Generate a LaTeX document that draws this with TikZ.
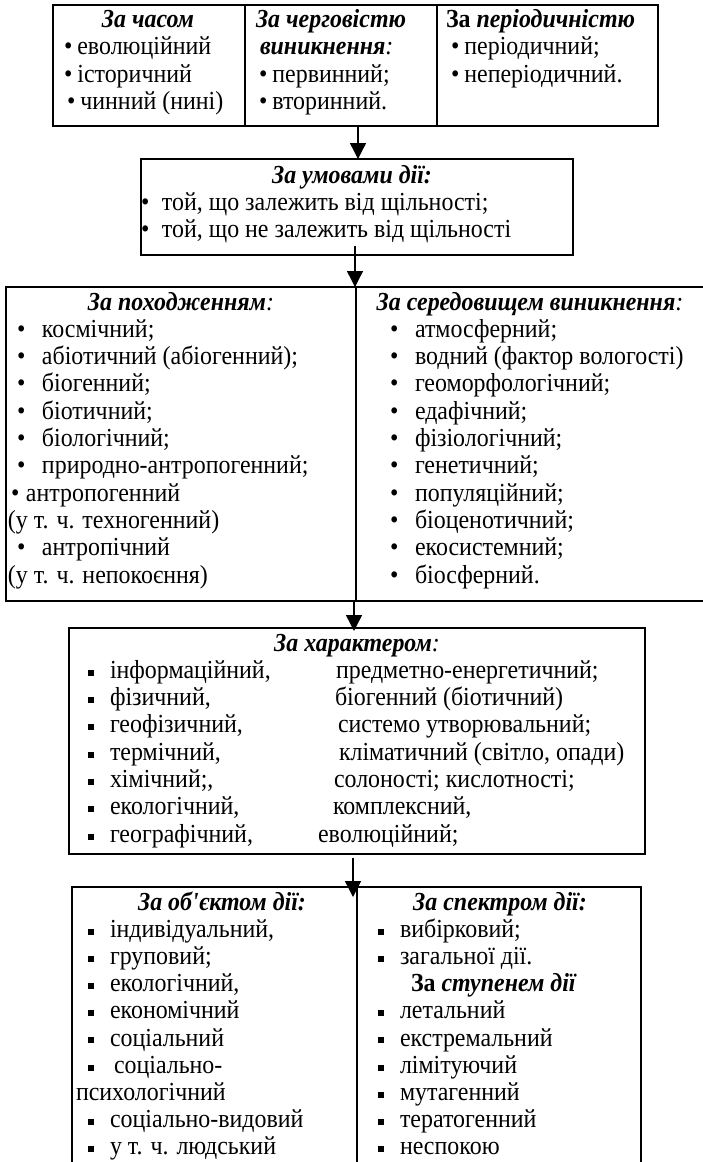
\documentclass[tikz,border=0pt]{standalone}
\usepackage{fontspec}
\setmainfont[FakeStretch=0.92]{Liberation Serif}
\usetikzlibrary{arrows.meta}
\newcommand{\fs}{\fontsize{26}{27.5}\selectfont}
\newcommand{\rb}[1]{\makebox[#1][l]{\textbullet}}
\newcommand{\sqb}[1]{\makebox[#1][l]{\raisebox{0.1em}{\rule{0.23em}{0.23em}}}}
\newcommand{\lcolon}{{\mdseries\itshape :}}
\begin{document}
\begin{tikzpicture}[x=1pt,y=-1pt,
  every node/.style={inner sep=0pt,outer sep=0pt,font=\fs},
  bx/.style={draw,line width=2pt},
  dl/.style={line width=1.8pt},
  tx/.style={anchor=base west},
  hc/.style={anchor=base,font=\fs\bfseries\itshape},
  hw/.style={anchor=base west,font=\fs\bfseries\itshape},
  arr/.style={line width=1.4pt,-{Triangle[width=16pt,length=16pt]}}]
\useasboundingbox (0,0) rectangle (703,1162);
\clip (0,0) rectangle (703,1162);
% boxes
\node[bx,minimum width=605pt,minimum height=121pt] (b1) at (355.5,65.5) {};
\node[bx,minimum width=432pt,minimum height=96pt] (b2) at (357,207) {};
\node[bx,minimum width=706pt,minimum height=314pt] (b3) at (359,444) {};
\node[bx,minimum width=576pt,minimum height=226pt] (b4) at (357,741) {};
\node[minimum width=569pt,minimum height=293pt] (b5) at (356.5,1033.5) {};
\draw[line width=2pt] (b5.south west) -- (b5.north west) -- (b5.north east) -- (b5.south east);
% dividers
\draw[dl] (245,5) -- (245,126);
\draw[dl] (437,5) -- (437,126);
\draw[dl] (356,287) -- (356,601);
\draw[dl] (357,887) -- (357,1180);
% arrows
\coordinate (ax1) at (358,0);
\coordinate (a2s) at (355,246);
\coordinate (ax3) at (354,0);
\coordinate (ax4) at (353,0);
\draw[arr] (b1.south -| ax1) -- (b2.north -| ax1);
\draw[arr] (a2s) -- (b3.north -| a2s);
\draw[arr] (b3.south -| ax3) -- ([yshift=-3pt]b4.north -| ax3);
\draw[arr] ([yshift=-4pt]b4.south -| ax4) -- ([yshift=-10pt]b5.north -| ax4);
% box 1
\node[hc] (h11) at (148,27) {За часом};
\node[tx] (t111) at (64,54.5) {\textbullet\hspace{5pt}еволюційний};
\node[tx] (t112) at (64,82) {\textbullet\hspace{5pt}історичний};
\node[tx] (t113) at (67,109.5) {\textbullet\hspace{5pt}чинний (нині)};
\node[hw] (h12a) at (256,27) {За черговістю};
\node[hw] (h12b) at (260,54.5) {виникнення\lcolon};
\node[tx] (t121) at (259,82) {\textbullet\hspace{5pt}первинний;};
\node[tx] (t122) at (259,109.5) {\textbullet\hspace{5pt}вторинний.};
\node[tx] (h13) at (446,27) {\textbf{За \textit{періодичністю}}};
\node[tx] (t131) at (451,54.5) {\textbullet\hspace{5pt}періодичний;};
\node[tx] (t132) at (451,82) {\textbullet\hspace{5pt}неперіодичний.};
% box 2
\node[hc] (h2) at (352,183) {За умовами дії:};
\node[tx] (t21) at (141,210) {\rb{21pt}той, що залежить від щільності;};
\node[tx] (t22) at (141,237) {\rb{21pt}той, що не залежить від щільності};
% box 3 left
\node[hc] (h31) at (181,310) {За походженням\lcolon};
\node[tx] (t301) at (17,337.3) {\rb{25pt}космічний;};
\node[tx] (t302) at (17,364.6) {\rb{25pt}абіотичний (абіогенний);};
\node[tx] (t303) at (17,391.9) {\rb{25pt}біогенний;};
\node[tx] (t304) at (17,419.2) {\rb{25pt}біотичний;};
\node[tx] (t305) at (17,446.5) {\rb{25pt}біологічний;};
\node[tx] (t306) at (17,473.8) {\rb{25pt}природно-антропогенний;};
\node[tx] (t307) at (11,501.1) {\rb{15pt}антропогенний};
\node[tx] (t308) at (8,528.4) {(у т. ч. техногенний)};
\node[tx] (t309) at (17,555.7) {\rb{25pt}антропічний};
\node[tx] (t310) at (8,583) {(у т. ч. непокоєння)};
% box 3 right
\node[hc] (h32) at (530,310) {За середовищем виникнення\lcolon};
\node[tx] (t321) at (390,337.3) {\rb{25pt}атмосферний;};
\node[tx] (t322) at (390,364.6) {\rb{25pt}водний (фактор вологості)};
\node[tx] (t323) at (390,391.9) {\rb{25pt}геоморфологічний;};
\node[tx] (t324) at (390,419.2) {\rb{25pt}едафічний;};
\node[tx] (t325) at (390,446.5) {\rb{25pt}фізіологічний;};
\node[tx] (t326) at (390,473.8) {\rb{25pt}генетичний;};
\node[tx] (t327) at (390,501.1) {\rb{25pt}популяційний;};
\node[tx] (t328) at (390,528.4) {\rb{25pt}біоценотичний;};
\node[tx] (t329) at (390,555.7) {\rb{25pt}екосистемний;};
\node[tx] (t330) at (390,583) {\rb{25pt}біосферний.};
% box 4
\node[hc] (h4) at (357,651) {За характером\lcolon};
\node[tx] (t401) at (88,678.3) {\sqb{22pt}інформаційний,};
\node[tx] (t402) at (88,705.6) {\sqb{22pt}фізичний,};
\node[tx] (t403) at (88,732.9) {\sqb{22pt}геофізичний,};
\node[tx] (t404) at (88,760.2) {\sqb{22pt}термічний,};
\node[tx] (t405) at (88,787.5) {\sqb{22pt}хімічний;,};
\node[tx] (t406) at (88,814.8) {\sqb{22pt}екологічний,};
\node[tx] (t407) at (88,842.1) {\sqb{22pt}географічний,};
\node[tx] (t411) at (336,678.3) {предметно-енергетичний;};
\node[tx] (t412) at (335,705.6) {біогенний (біотичний)};
\node[tx] (t413) at (338,732.9) {системо утворювальний;};
\node[tx] (t414) at (339,760.2) {кліматичний (світло, опади)};
\node[tx] (t415) at (334,787.5) {солоності; кислотності;};
\node[tx] (t416) at (333,814.8) {комплексний,};
\node[tx] (t417) at (318,842.1) {еволюційний;};
% box 5 left
\node[hc] (h51) at (222,910) {За об\textquotesingle єктом дії:};
\node[tx] (t501) at (88,937.2) {\sqb{22pt}індивідуальний,};
\node[tx] (t502) at (88,964.4) {\sqb{22pt}груповий;};
\node[tx] (t503) at (88,991.6) {\sqb{22pt}екологічний,};
\node[tx] (t504) at (88,1018.8) {\sqb{22pt}економічний};
\node[tx] (t505) at (88,1046) {\sqb{22pt}соціальний};
\node[tx] (t506) at (88,1073.2) {\sqb{26pt}соціально-};
\node[tx] (t507) at (76,1100.4) {психологічний};
\node[tx] (t508) at (88,1127.6) {\sqb{22pt}соціально-видовий};
\node[tx] (t509) at (88,1154.8) {\sqb{22pt}у т. ч. людський};
% box 5 right
\node[hc] (h52) at (500,910) {За спектром дії:};
\node[tx] (t521) at (378,937.2) {\sqb{22pt}вибірковий;};
\node[tx] (t522) at (378,964.4) {\sqb{22pt}загальної дії.};
\node[tx] (h53) at (411,991.6) {\textbf{За \textit{ступенем дії}}};
\node[tx] (t523) at (378,1018.8) {\sqb{22pt}летальний};
\node[tx] (t524) at (378,1046) {\sqb{22pt}екстремальний};
\node[tx] (t525) at (378,1073.2) {\sqb{22pt}лімітуючий};
\node[tx] (t526) at (378,1100.4) {\sqb{22pt}мутагенний};
\node[tx] (t527) at (378,1127.6) {\sqb{22pt}тератогенний};
\node[tx] (t528) at (378,1154.8) {\sqb{22pt}неспокою};
\end{tikzpicture}
\end{document}
